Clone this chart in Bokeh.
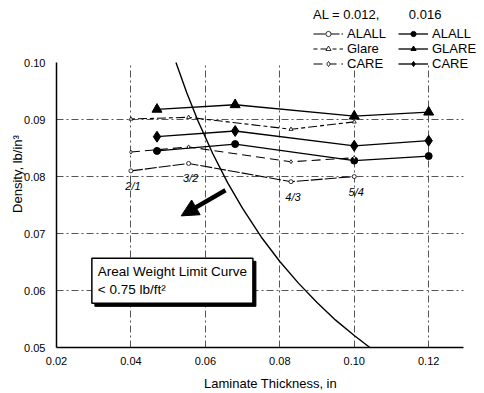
from bokeh.plotting import figure
from bokeh.models import (Range1d, FixedTicker, NumeralTickFormatter, Legend, LegendItem,
                          Label, Arrow, NormalHead, ColumnDataSource, Grid)
from bokeh.core.properties import value
from bokeh.embed import file_html
from bokeh.resources import INLINE

FONT = "Liberation Sans"

# ---- data ----
thick_016 = [0.047, 0.068, 0.100, 0.120]
glare_016 = [0.0918, 0.0926, 0.0906, 0.0913]
care_016 = [0.0870, 0.0880, 0.0854, 0.0863]
alall_016 = [0.0845, 0.0857, 0.0828, 0.0836]

thick_012 = [0.040, 0.0555, 0.083, 0.100]
glare_012 = [0.0901, 0.0904, 0.0883, 0.0896]
care_012 = [0.0843, 0.0852, 0.0826, 0.0833]
alall_012 = [0.0810, 0.0823, 0.0791, 0.0800]
layups_012 = ["2/1", "3/2", "4/3", "5/4"]

limit_thick = [0.0521, 0.055, 0.058, 0.062, 0.066, 0.070, 0.075, 0.080, 0.085, 0.090, 0.095, 0.100, 0.1042]
limit_dens = [0.1000, 0.0947, 0.0898, 0.0840, 0.0789, 0.0744, 0.0694, 0.0651, 0.0613, 0.0579, 0.0548, 0.0521, 0.0500]

x_ticks = [0.02, 0.04, 0.06, 0.08, 0.10, 0.12]
y_ticks = [0.05, 0.06, 0.07, 0.08, 0.09, 0.10]
x_grid = [0.04, 0.06, 0.08, 0.10, 0.12]
y_grid = [0.06, 0.07, 0.08, 0.09]

X_AXIS_BOUNDS = (0.02, 0.1294)
Y_AXIS_BOUNDS = (0.05, 0.10)

p = figure(width=484, height=393, output_backend="svg", toolbar_location=None,
           x_range=Range1d(0.02, 0.1350), y_range=Range1d(0.05, 0.1109),
           min_border_left=56, min_border_right=0, min_border_top=0, min_border_bottom=43)
p.outline_line_color = None
p.background_fill_color = "white"
p.xgrid.visible = False
p.ygrid.visible = False

for ax in (p.xaxis[0], p.yaxis[0]):
    ax.major_tick_line_color = None
    ax.minor_tick_line_color = None
    ax.axis_line_color = "black"
    ax.axis_line_width = 1.5
    ax.major_label_text_font = FONT
    ax.major_label_text_font_size = "11px"
    ax.major_label_text_color = "black"
    ax.axis_label_text_font = FONT
    ax.axis_label_text_font_size = "13px"
    ax.axis_label_text_font_style = "normal"
    ax.axis_label_text_color = "black"
    ax.formatter = NumeralTickFormatter(format="0.00")

p.xaxis.ticker = FixedTicker(ticks=x_ticks)
p.yaxis.ticker = FixedTicker(ticks=y_ticks)
p.xaxis.bounds = X_AXIS_BOUNDS
p.yaxis.bounds = Y_AXIS_BOUNDS
p.xaxis.axis_label = "Laminate Thickness, in"
p.yaxis.axis_label = "Density, lb/in\u00b3"
p.xaxis.major_label_standoff = 3
p.xaxis.axis_label_standoff = 8
p.yaxis.major_label_standoff = 5
p.yaxis.axis_label_standoff = -4

has_cross = "cross_bounds" in Grid.properties()
gx = Grid(dimension=0, ticker=FixedTicker(ticks=x_grid))
gy = Grid(dimension=1, ticker=FixedTicker(ticks=y_grid))
if has_cross:
    gx.cross_bounds = Y_AXIS_BOUNDS
    gy.cross_bounds = X_AXIS_BOUNDS
for g in (gx, gy):
    g.grid_line_color = "#555555"
    g.grid_line_dash = "7 3 2 3"
    g.grid_line_width = 1
    p.add_layout(g, "center")

# ---- 0.016 series (solid with markers) ----
r_lines16 = []
for ys, mk, sz in ((alall_016, "circle", 7), (glare_016, "triangle", 10), (care_016, "diamond", 11)):
    l = p.line(thick_016, ys, line_color="black", line_width=1.3)
    s = p.scatter(thick_016, ys, marker=mk, size=sz, fill_color="black", line_color="black")
    r_lines16.append((l, s))

# ---- 0.012 series (dashed, small open markers) ----
r_lines12 = []
for ys, mk, dash in ((alall_012, "circle", "12 2"), (glare_012, "triangle", "4 3 9 3"), (care_012, "diamond", "9 5")):
    l = p.line(thick_012, ys, line_color="black", line_width=1.1, line_dash=dash)
    s = p.scatter(thick_012, ys, marker=mk, size=4, fill_color="white", line_color="black", line_width=0.8)
    r_lines12.append((l, s))

# layup labels
src_lab = ColumnDataSource(dict(x=thick_012, y=alall_012, t=layups_012))
p.text(x="x", y="y", text="t", source=src_lab, text_font=value(FONT), text_font_size="11px",
       text_font_style="italic", text_align="center", text_baseline="top", y_offset=9, x_offset=2,
       text_color="black")

# limit curve
p.line(limit_thick, limit_dens, line_color="black", line_width=1.4)

# arrow
p.add_layout(Arrow(x_start=0.0654, y_start=0.0776, x_end=0.0535, y_end=0.0731,
                   line_width=4.5, line_color="black",
                   end=NormalHead(size=17, fill_color="black", line_color="black")))

# annotation box with shadow
box_text = "Areal Weight Limit Curve\n< 0.75 lb/ft\u00b2"
shadow = Label(x=0.0295, y=0.0617, text=box_text, text_font=FONT, text_font_size="13.5px",
               text_baseline="middle", text_color="black", x_offset=3, y_offset=-3,
               background_fill_color="black", border_line_color="black", padding=6)
box = Label(x=0.0295, y=0.0617, text=box_text, text_font=FONT, text_font_size="13.5px",
            text_baseline="middle", text_color="black",
            background_fill_color="white", border_line_color="black", border_line_width=1.5, padding=6)
p.add_layout(shadow)
p.add_layout(box)

# legends
def mk_legend(pairs, names, title, loc):
    items = [LegendItem(label=n, renderers=list(rs)) for n, rs in zip(names, pairs)]
    return Legend(items=items, title=title, location=loc, orientation="vertical",
                  glyph_width=30, glyph_height=13, label_standoff=4, spacing=0,
                  padding=0, margin=0, border_line_color=None, background_fill_alpha=0,
                  label_text_font=FONT, label_text_font_size="13px", label_text_color="black",
                  title_text_font=FONT, title_text_font_size="13px", title_text_font_style="normal",
                  title_text_color="black", title_standoff=4)

lg1 = mk_legend(r_lines12, ["ALALL", "Glare", "CARE"], "AL = 0.012,", (257, 276))
lg2 = mk_legend(r_lines16, ["ALALL", "GLARE", "CARE"], "\u00a0\u00a0\u00a00.016", (342, 276))
p.add_layout(lg1, "center")
p.add_layout(lg2, "center")

open("out.html", "w").write(file_html(p, INLINE))
